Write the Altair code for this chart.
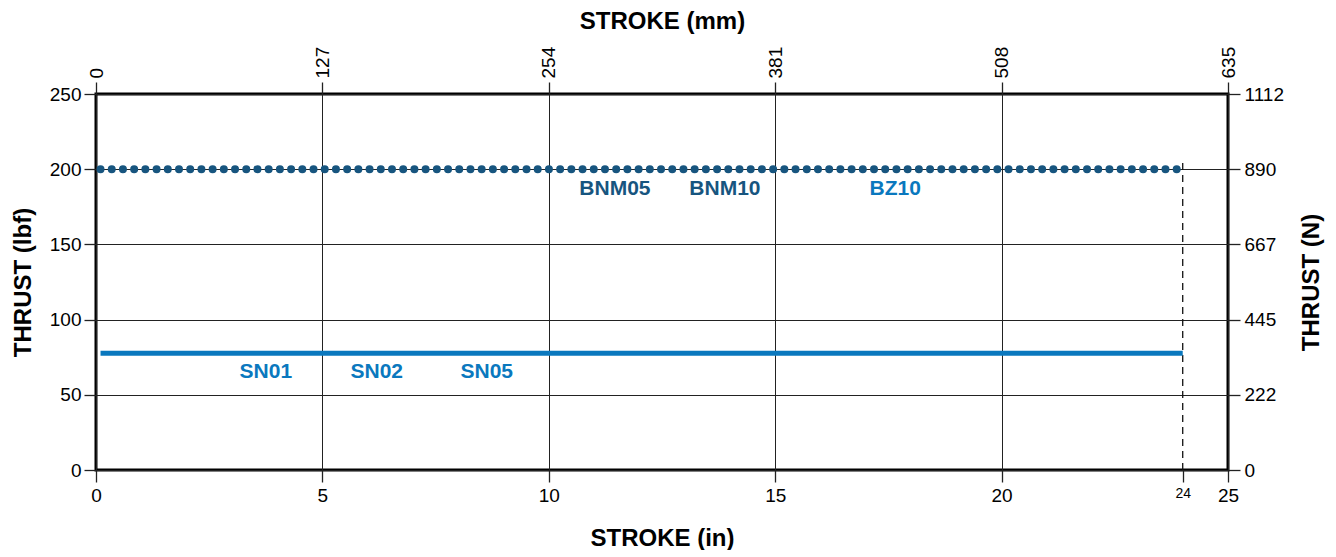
import altair as alt
import pandas as pd

FONT = "Liberation Sans, Arial, sans-serif"

# ---- data ----
sn_x = [0.1, 24]
sn_y = [77.6, 77.6]
bnm_x = [0.1, 23.87]
bnm_y = [200, 200]
limit_x = [24, 24]
limit_y = [0, 204.3]

label_text = ["SN01", "SN02", "SN05", "BNM05", "BNM10", "BZ10"]
label_x = [3.75, 6.2, 8.63, 11.46, 13.89, 17.65]
label_y = [65, 65, 65, 186.6, 186.6, 186.6]
label_group = ["light", "light", "light", "dark", "dark", "light"]

in_ticks = [0, 5, 10, 15, 20, 24, 25]
lbf_ticks = [0, 50, 100, 150, 200, 250]
mm_ticks = [0, 127, 254, 381, 508, 635]
n_ticks = [0, 222, 445, 667, 890, 1112]

LIGHT = "#0a78be"
DARK = "#17557f"

sn_df = pd.DataFrame({"x": sn_x, "y": sn_y})
bnm_df = pd.DataFrame({"x": bnm_x, "y": bnm_y})
lim_df = pd.DataFrame({"x": limit_x, "y": limit_y})
lab_df = pd.DataFrame({"x": label_x, "y": label_y, "t": label_text, "g": label_group})
sec_df = pd.DataFrame({"mm": [0, 635], "n": [0, 1112]})

X = alt.X(
    "x:Q",
    scale=alt.Scale(domain=[0, 25], nice=False, zero=False),
    axis=alt.Axis(
        orient="bottom",
        values=in_ticks,
        title="STROKE (in)",
        grid=True,
        gridColor="#222222",
        gridWidth=1,
        gridOpacity={"condition": {"test": "datum.value == 24", "value": 0}, "value": 1},
        labelFontSize={"condition": {"test": "datum.value == 24", "value": 14}, "value": 19},
        labelPadding=4,
        titlePadding=21,
    ),
)
Y = alt.Y(
    "y:Q",
    scale=alt.Scale(domain=[0, 250], nice=False),
    axis=alt.Axis(
        orient="left",
        values=lbf_ticks,
        title="THRUST (lbf)",
        grid=True,
        gridColor="#222222",
        gridWidth=1,
        labelPadding=3,
        titlePadding=14,
    ),
)

sn = alt.Chart(sn_df).mark_line(color=LIGHT, strokeWidth=5, strokeCap="butt").encode(x=X, y=Y)
bnm = alt.Chart(bnm_df).mark_line(
    color=DARK, strokeWidth=8, strokeCap="round", strokeDash=[0, 11.21]
).encode(x=X, y=Y)
lim = alt.Chart(lim_df).mark_line(color="#111111", strokeWidth=1.3, strokeDash=[7, 5]).encode(x=X, y=Y)
labels = alt.Chart(lab_df).mark_text(
    font=FONT, fontSize=21, fontWeight="bold", align="center", baseline="middle"
).encode(
    x=X,
    y=Y,
    text="t:N",
    color=alt.Color("g:N", scale=alt.Scale(domain=["light", "dark"], range=[LIGHT, DARK]), legend=None),
)

main = alt.layer(lim, sn, bnm, labels)

secondary = alt.Chart(sec_df).mark_point(opacity=0).encode(
    x=alt.X(
        "mm:Q",
        scale=alt.Scale(domain=[0, 635], nice=False),
        axis=alt.Axis(
            orient="top",
            values=mm_ticks,
            title="STROKE (mm)",
            grid=False,
            labelAngle=270,
            labelAlign="left",
            labelBaseline="middle",
            labelPadding=4,
            titlePadding=13,
        ),
    ),
    y=alt.Y(
        "n:Q",
        scale=alt.Scale(domain=[0, 1112], nice=False),
        axis=alt.Axis(
            orient="right",
            values=n_ticks,
            format="d",
            title="THRUST (N)",
            titleAngle=270,
            titleBaseline="bottom",
            grid=False,
            labelPadding=4,
            titlePadding=40,
        ),
    ),
)

chart = (
    alt.layer(main, secondary)
    .resolve_scale(x="independent", y="independent")
    .properties(
        width=1132,
        height=376,
        autosize=alt.AutoSizeParams(type="none"),
        padding={"left": 88, "top": 86, "right": 100, "bottom": 80},
    )
    .configure_view(stroke="black", strokeWidth=3)
    .configure_axis(
        domain=False,
        tickColor="#222222",
        tickSize=12,
        tickWidth=1.3,
        labelFont=FONT,
        labelFontSize=19,
        labelColor="black",
        titleFont=FONT,
        titleFontSize=24,
        titleFontWeight="bold",
        titleColor="black",
        labelFlush=False,
        labelOverlap=False,
    )
)

chart.save("out.html", embed_options={"renderer": "svg", "actions": False})
